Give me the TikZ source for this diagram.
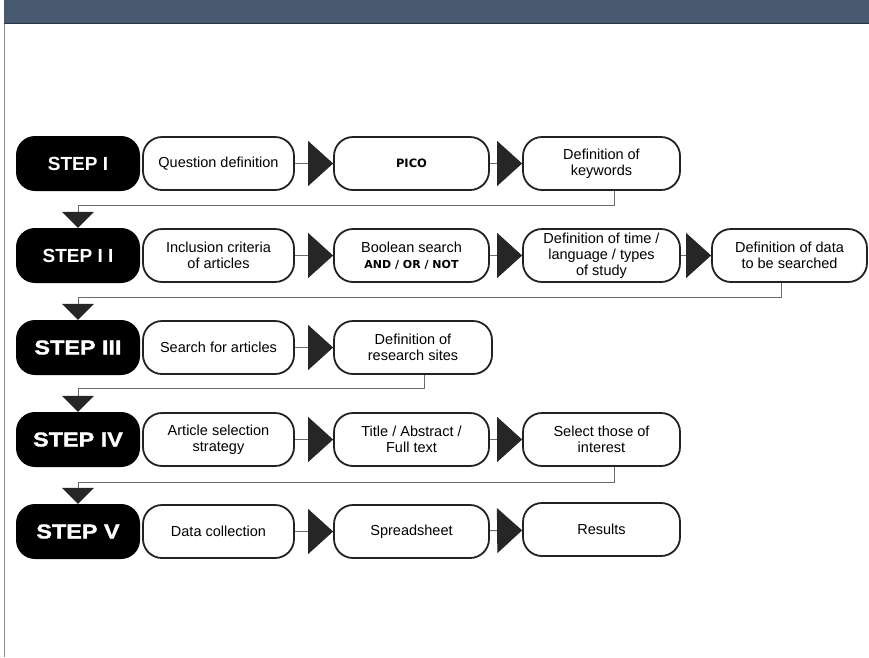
\documentclass[tikz,border=0pt]{standalone}
\usepackage{fontspec}
\setmainfont{Liberation Sans}
\newfontfamily\stepfont{Liberation Sans}
\newfontfamily\heavyfont{Liberation Sans}[FakeStretch=1.17, BoldFeatures={FakeBold=1.6}]
\newfontfamily\kwfont{DejaVu Sans}
\usetikzlibrary{arrows.meta,calc}
\definecolor{headfill}{HTML}{485A6F}
\definecolor{headline}{HTML}{2B3540}
\definecolor{framecol}{HTML}{8A8A8A}
\definecolor{boxline}{HTML}{222222}
\definecolor{connline}{HTML}{6A6A6A}
\definecolor{tipfill}{HTML}{262626}
\tikzset{
  stepbox/.style={fill=black, text=white, rounded corners=19pt, minimum width=124pt,
    minimum height=55pt, inner sep=0pt},
  stepa/.style={stepbox, font=\stepfont\bfseries\fontsize{19}{22}\selectfont},
  stepb/.style={stepbox, font=\heavyfont\bfseries\fontsize{20}{22}\selectfont},
  pill/.style={draw=boxline, line width=1.8pt, fill=white, rounded corners=19pt,
    minimum height=53pt, align=center, inner sep=0pt,
    font=\fontsize{14.5}{16}\selectfont},
  wA/.style={pill, minimum width=151pt},
  wB/.style={pill, minimum width=155pt},
  wC/.style={pill, minimum width=157pt},
  harrow/.style={draw=connline, line width=1pt,
    -{Triangle[length=25pt,width=45pt,fill=tipfill,color=tipfill]}},
  varrow/.style={draw=connline, line width=1pt,
    -{Triangle[length=16pt,width=32pt,fill=tipfill,color=tipfill]}},
  kw/.style={font=\kwfont\bfseries\fontsize{11}{13}\selectfont}
}
\begin{document}
\begin{tikzpicture}[x=1pt,y=-1pt]
\useasboundingbox (0,0) rectangle (869,657);
% header and frame
\fill[headfill] (4,0) rectangle (869,23.5);
\draw[headline, line width=1.5pt] (4,23.5) -- (869,23.5);
\draw[framecol, line width=1.4pt] (4.7,24) -- (4.7,657);

% Row I
\node[stepa] (s1) at (78,163.5) {STEP I};
\node[wA] (q1) at (218.5,163.5) {Question definition};
\node[wB] (p1) at (411.5,163.5) {{\kwfont\bfseries\fontsize{11.5}{13}\selectfont PICO}};
\node[wC] (k1) at (601.5,163.5) {Definition of\\keywords};

% Row II
\node[stepa] (s2) at (78,255.5) {STEP I I};
\node[wA] (q2) at (218.5,255.5) {Inclusion criteria\\of articles};
\node[wB] (p2) at (411.5,255.5) {Boolean search\\{\kwfont\bfseries\fontsize{11}{13}\selectfont AND / OR / NOT}};
\node[wC] (k2) at (601.5,255.5) {Definition of time /\\language / types\\of study};
\node[wB] (d2) at (789.5,255.5) {Definition of data\\to be searched};

% Row III
\node[stepb] (s3) at (78,347.5) {STEP III};
\node[wA] (q3) at (218.5,347.5) {Search for articles};
\node[pill, minimum width=158pt] (p3) at (413,347.5) {Definition of\\research sites};

% Row IV
\node[stepb] (s4) at (78,439.5) {STEP IV};
\node[wA] (q4) at (218.5,439.5) {Article selection\\strategy};
\node[wB] (p4) at (411.5,439.5) {Title / Abstract /\\Full text};
\node[wC] (k4) at (601.5,439.5) {Select those of\\interest};

% Row V
\node[stepb] (s5) at (78,531.5) {STEP V};
\node[wA] (q5) at (218.5,531.5) {Data collection};
\node[wB] (p5) at (411.5,531.5) {Spreadsheet};
\node[wC] (k5) at (601.5,529.5) {Results};

% horizontal arrows
\draw[harrow] (q1) -- (p1);
\draw[harrow] (p1) -- (k1);
\draw[harrow] (q2) -- (p2);
\draw[harrow] (p2) -- (k2);
\draw[harrow] (k2) -- (d2);
\draw[harrow] (q3) -- (p3);
\draw[harrow] (q4) -- (p4);
\draw[harrow] (p4) -- (k4);
\draw[harrow] (q5) -- (p5);
\draw[harrow] (p5) -- (k5);

% step-to-step connectors
\draw[varrow] ([xshift=12.5pt]k1.south) -- ++(0,15) -| (s2.north);
\draw[varrow] ([xshift=-8.5pt]d2.south) -- ++(0,15) -| (s3.north);
\draw[varrow] ([xshift=11pt]p3.south) -- ++(0,14) -| (s4.north);
\draw[varrow] ([xshift=12.5pt]k4.south) -- ++(0,16) -| (s5.north);
\end{tikzpicture}
\end{document}
